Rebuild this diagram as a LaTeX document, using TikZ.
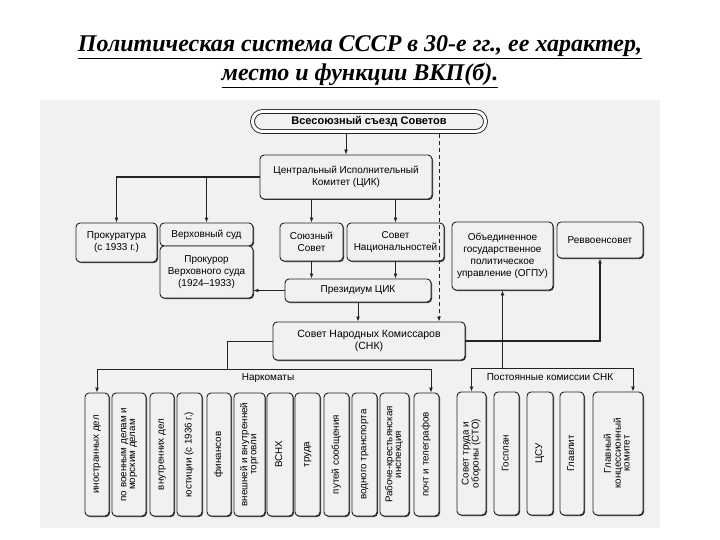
\documentclass[tikz,border=0pt]{standalone}
\usepackage{fontspec}
\setmainfont{Liberation Serif}
\newfontfamily\dsans{Liberation Sans}
\usetikzlibrary{arrows.meta,shadows}
\definecolor{bg}{RGB}{241,241,239}
\definecolor{ink}{RGB}{35,35,35}
\newcommand\vt[1]{\rotatebox{90}{\renewcommand\arraystretch{0.85}\begin{tabular}{@{}c@{}}#1\end{tabular}}}
\begin{document}
\begin{tikzpicture}[x=1pt,y=-1pt,
  box/.style={draw=ink, line width=0.9pt, rounded corners=4pt, fill=bg, inner sep=1pt, align=center,
    font=\dsans\fontsize{10}{12}\selectfont,
    drop shadow={shadow xshift=1pt, shadow yshift=-1pt, fill=ink, opacity=0.9}},
  vbox/.style={box, font=\dsans\fontsize{9.8}{10.5}\selectfont},
  arr/.style={draw=ink, line width=0.9pt, -{Latex[length=5pt,width=4pt]}},
  ln/.style={draw=ink, line width=0.9pt},
  lbl/.style={font=\dsans\fontsize{10}{12}\selectfont, inner sep=0pt},
  title/.style={font=\bfseries\itshape\fontsize{24}{28}\selectfont, inner sep=0pt}
]
\useasboundingbox (0,0) rectangle (720,540);
\fill[bg] (40,100) rectangle (660,528);

% title
\node[title] (t1) at (360,47) {\underline{Политическая система СССР в 30-е гг., ее характер,}};
\node[title] (t2) at (360,76) {\underline{место и функции ВКП(б).}};

% top
\node[draw=ink, line width=0.9pt, double, double distance=3pt, rounded corners=10pt, fill=bg,
  minimum width=233pt, minimum height=20pt, inner sep=0pt,
  font=\dsans\bfseries\fontsize{11}{12}\selectfont] (congress) at (369,121.5) {Всесоюзный съезд Советов};
\node[box, minimum width=172pt, minimum height=44pt] (cik) at (346,177) {Центральный Исполнительный\\Комитет (ЦИК)};

\node[box, minimum width=81pt, minimum height=39pt] (prok) at (116.5,242.5) {Прокуратура\\(с 1933 г.)};
\node[box, minimum width=93pt, minimum height=23pt] (vs) at (206.5,234.5) {Верховный суд};
\node[box, minimum width=93pt, minimum height=52pt] (prokvs) at (206.5,272) {Прокурор\\Верховного суда\\(1924–1933)};
\node[box, minimum width=63pt, minimum height=38pt] (ss) at (311.5,242) {Союзный\\Совет};
\node[box, minimum width=97pt, minimum height=38pt] (sn) at (395.5,242) {Совет\\Национальностей};
\node[box, minimum width=146pt, minimum height=23pt] (pres) at (358,290.5) {Президиум ЦИК};
\node[box, minimum width=192pt, minimum height=38pt, font=\dsans\fontsize{10.5}{12.5}\selectfont] (snk) at (369,341) {Совет Народных Комиссаров\\(СНК)};
\node[box, minimum width=101pt, minimum height=68pt] (ogpu) at (502.5,256) {Объединенное\\государственное\\политическое\\управление (ОГПУ)};
\node[box, minimum width=86pt, minimum height=36pt] (rvs) at (600,240) {Реввоенсовет};

% narkomaty
\node[vbox, minimum width=24pt, minimum height=123pt] (n1) at (97,454.5) {\vt{иностранных дел}};
\node[vbox, minimum width=34pt, minimum height=123pt] (n2) at (129,454.5) {\vt{по военным делам и\\морским делам}};
\node[vbox, minimum width=24pt, minimum height=123pt] (n3) at (162,454.5) {\vt{внутренних дел}};
\node[vbox, minimum width=25pt, minimum height=123pt] (n4) at (189.5,454.5) {\vt{юстиции (с 1936 г.)}};
\node[vbox, minimum width=24pt, minimum height=123pt] (n5) at (219,454.5) {\vt{финансов}};
\node[vbox, minimum width=31pt, minimum height=123pt] (n6) at (249.5,454.5) {\vt{внешней и внутренней\\торговли}};
\node[vbox, minimum width=26pt, minimum height=123pt] (n7) at (280,454.5) {\vt{ВСНХ}};
\node[vbox, minimum width=25pt, minimum height=123pt] (n8) at (307.5,454.5) {\vt{труда}};
\node[vbox, minimum width=25pt, minimum height=123pt] (n9) at (336.5,454.5) {\vt{путей сообщения}};
\node[vbox, minimum width=25pt, minimum height=123pt] (n10) at (364.5,454.5) {\vt{водного транспорта}};
\node[vbox, minimum width=29pt, minimum height=123pt] (n11) at (394.5,454.5) {\vt{Рабоче-крестьянская\\инспекция}};
\node[vbox, minimum width=25pt, minimum height=123pt] (n12) at (426.5,454.5) {\vt{почт и телеграфов}};

% commissions
\node[vbox, minimum width=29pt, minimum height=123pt] (k1) at (471.5,453.5) {\vt{Совет труда и\\обороны (СТО)}};
\node[vbox, minimum width=25pt, minimum height=123pt] (k2) at (506.5,453.5) {\vt{Госплан}};
\node[vbox, minimum width=26pt, minimum height=123pt] (k3) at (540,453.5) {\vt{ЦСУ}};
\node[vbox, minimum width=24pt, minimum height=123pt] (k4) at (572,453.5) {\vt{Главлит}};
\node[vbox, minimum width=50pt, minimum height=123pt] (k5) at (618,453.5) {\vt{Главный\\концессионный\\комитет}};

\node[lbl] (lnar) at (268,378) {Наркоматы};
\node[lbl] (lpk) at (550,377) {Постоянные комиссии СНК};

% helper coordinates
\coordinate (cgb) at ([yshift=-2.4pt]congress.south);
\coordinate (dx) at (439,0);
\coordinate (ky) at (0,368);
\coordinate (kx) at (633,0);
\coordinate (ny) at (0,369);
\coordinate (nx) at (227,0);
\coordinate (nxr) at (431,0);

% connectors
\draw[arr] (cik.north |- cgb) -- (cik.north);
\draw[arr, dash pattern=on 4pt off 3pt] (cgb -| dx) -- (snk.north -| dx);
\draw[arr, line width=1.3pt] (cik.west) -| (prok.north);
\draw[arr, line width=1.8pt] (vs.north |- cik.west) -- (vs.north);
\draw[arr] (ss.north |- cik.south) -- (ss.north);
\draw[arr, line width=1.3pt] (sn.north |- cik.south) -- (sn.north);
\draw[arr] (ss.south) -- (ss.south |- pres.north);
\draw[arr, line width=1.3pt] (sn.south) -- (sn.south |- pres.north);
\draw[arr] (pres.south) -- (pres.south |- snk.north);
\draw[arr] (pres.west) -- (pres.west -| prokvs.east);
\draw[arr, line width=1.3pt] (snk.east) -| (rvs.south);
\draw[arr] (ogpu.south |- ky) -- (ogpu.south);
\draw[arr] (ogpu.south |- ky) -| (k1.north);
\draw[arr] (ogpu.south |- ky) -| (k5.north -| kx);
\draw[ln] (snk.west) -| (nx |- ny);
\draw[arr] (nx |- ny) -| (n1.north);
\draw[arr] (nx |- ny) -| (n12.north -| nxr);
\end{tikzpicture}
\end{document}
